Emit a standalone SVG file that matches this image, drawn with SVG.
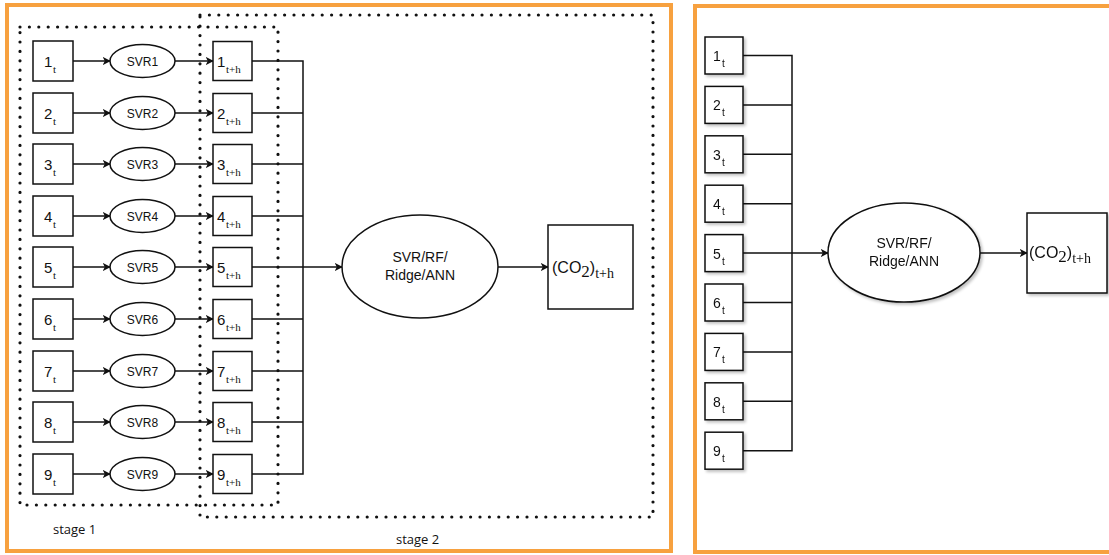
<svg xmlns="http://www.w3.org/2000/svg" width="1109" height="555" viewBox="0 0 1109 555">
<style>
.frame{fill:none;stroke:#f7a13f;stroke-width:4}
.dot{fill:none;stroke:#111;stroke-width:3.2;stroke-dasharray:0 9.4;stroke-linecap:round}
.box{fill:#fff;stroke:#111;stroke-width:1.5}
.ln{fill:none;stroke:#111;stroke-width:1.5}
.arr{fill:none;stroke:#111;stroke-width:1.5;marker-end:url(#ah)}
.t{font-family:"Liberation Sans",Arial,sans-serif;fill:#111}
.s{font-family:"Liberation Serif","DejaVu Serif",serif;fill:#111}
.lbl{font-family:"Open Sans","Liberation Sans",sans-serif;font-size:13px;fill:#111}
</style>
<defs>
<marker id="ah" viewBox="0 0 10 10" refX="9" refY="5" markerWidth="8" markerHeight="8" orient="auto" markerUnits="userSpaceOnUse">
<path d="M0,0 L10,5 L0,10 L2.5,5 Z" fill="#111"/>
</marker>
<filter id="sh" x="-20%" y="-20%" width="150%" height="150%">
<feGaussianBlur in="SourceAlpha" stdDeviation="1.5"/>
<feOffset dx="2" dy="2" result="b"/>
<feComponentTransfer><feFuncA type="linear" slope="0.25"/></feComponentTransfer>
<feMerge><feMergeNode/><feMergeNode in="SourceGraphic"/></feMerge>
</filter>
</defs>
<rect width="1109" height="555" fill="#fff"/>
<rect class="frame" x="7" y="5" width="664" height="546"/>
<rect class="frame" x="695" y="6" width="420" height="546"/>
<g id="stage1">
<rect class="dot" x="20" y="27" width="258" height="478"/>
<text class="lbl" x="53" y="534">stage 1</text>
</g>
<g id="stage2">
<rect class="dot" x="200" y="15" width="453" height="502"/>
<text class="lbl" x="396" y="544">stage 2</text>
</g>
<g id="connectors">
<line class="arr" x1="73" y1="61" x2="110" y2="61"/>
<line class="arr" x1="73" y1="113" x2="110" y2="113"/>
<line class="arr" x1="73" y1="164" x2="110" y2="164"/>
<line class="arr" x1="73" y1="216" x2="110" y2="216"/>
<line class="arr" x1="73" y1="267" x2="110" y2="267"/>
<line class="arr" x1="73" y1="319" x2="110" y2="319"/>
<line class="arr" x1="73" y1="371" x2="110" y2="371"/>
<line class="arr" x1="73" y1="422" x2="110" y2="422"/>
<line class="arr" x1="73" y1="474" x2="110" y2="474"/>
<line class="arr" x1="175" y1="61" x2="213" y2="61"/>
<line class="arr" x1="175" y1="113" x2="213" y2="113"/>
<line class="arr" x1="175" y1="164" x2="213" y2="164"/>
<line class="arr" x1="175" y1="216" x2="213" y2="216"/>
<line class="arr" x1="175" y1="267" x2="213" y2="267"/>
<line class="arr" x1="175" y1="319" x2="213" y2="319"/>
<line class="arr" x1="175" y1="371" x2="213" y2="371"/>
<line class="arr" x1="175" y1="422" x2="213" y2="422"/>
<line class="arr" x1="175" y1="474" x2="213" y2="474"/>
<path class="ln" d="M252,61 H303 V474 H252 M252,113 H303 M252,164 H303 M252,216 H303 M252,267 H303 M252,319 H303 M252,371 H303 M252,422 H303"/>
<line class="arr" x1="303" y1="267" x2="342" y2="267"/>
<line class="arr" x1="498" y1="267" x2="548" y2="267"/>
<path class="ln" d="M743,55.5 H792 V450.7 H743 M743,104.9 H792 M743,154.3 H792 M743,203.7 H792 M743,253.1 H792 M743,302.5 H792 M743,351.9 H792 M743,401.3 H792"/>
<line class="arr" x1="792" y1="253" x2="828" y2="253"/>
<line class="arr" x1="980" y1="253" x2="1027" y2="253"/>
</g>
<g id="in1"><rect class="box" x="33" y="41" width="40" height="40"/><text class="t" x="44" y="67" font-size="15">1</text><text class="s" x="53" y="73" font-size="11">t</text></g>
<g id="in2"><rect class="box" x="33" y="93" width="40" height="40"/><text class="t" x="44" y="119" font-size="15">2</text><text class="s" x="53" y="125" font-size="11">t</text></g>
<g id="in3"><rect class="box" x="33" y="144" width="40" height="40"/><text class="t" x="44" y="170" font-size="15">3</text><text class="s" x="53" y="176" font-size="11">t</text></g>
<g id="in4"><rect class="box" x="33" y="196" width="40" height="40"/><text class="t" x="44" y="222" font-size="15">4</text><text class="s" x="53" y="228" font-size="11">t</text></g>
<g id="in5"><rect class="box" x="33" y="247" width="40" height="40"/><text class="t" x="44" y="273" font-size="15">5</text><text class="s" x="53" y="279" font-size="11">t</text></g>
<g id="in6"><rect class="box" x="33" y="299" width="40" height="40"/><text class="t" x="44" y="325" font-size="15">6</text><text class="s" x="53" y="331" font-size="11">t</text></g>
<g id="in7"><rect class="box" x="33" y="351" width="40" height="40"/><text class="t" x="44" y="377" font-size="15">7</text><text class="s" x="53" y="383" font-size="11">t</text></g>
<g id="in8"><rect class="box" x="33" y="402" width="40" height="40"/><text class="t" x="44" y="428" font-size="15">8</text><text class="s" x="53" y="434" font-size="11">t</text></g>
<g id="in9"><rect class="box" x="33" y="454" width="40" height="40"/><text class="t" x="44" y="480" font-size="15">9</text><text class="s" x="53" y="486" font-size="11">t</text></g>
<g id="svr1"><ellipse class="box" cx="142.5" cy="61" rx="32.5" ry="16.5"/><text class="t" x="142.5" y="65.5" font-size="12" text-anchor="middle">SVR1</text></g>
<g id="svr2"><ellipse class="box" cx="142.5" cy="113" rx="32.5" ry="16.5"/><text class="t" x="142.5" y="117.5" font-size="12" text-anchor="middle">SVR2</text></g>
<g id="svr3"><ellipse class="box" cx="142.5" cy="164" rx="32.5" ry="16.5"/><text class="t" x="142.5" y="168.5" font-size="12" text-anchor="middle">SVR3</text></g>
<g id="svr4"><ellipse class="box" cx="142.5" cy="216" rx="32.5" ry="16.5"/><text class="t" x="142.5" y="220.5" font-size="12" text-anchor="middle">SVR4</text></g>
<g id="svr5"><ellipse class="box" cx="142.5" cy="267" rx="32.5" ry="16.5"/><text class="t" x="142.5" y="271.5" font-size="12" text-anchor="middle">SVR5</text></g>
<g id="svr6"><ellipse class="box" cx="142.5" cy="319" rx="32.5" ry="16.5"/><text class="t" x="142.5" y="323.5" font-size="12" text-anchor="middle">SVR6</text></g>
<g id="svr7"><ellipse class="box" cx="142.5" cy="371" rx="32.5" ry="16.5"/><text class="t" x="142.5" y="375.5" font-size="12" text-anchor="middle">SVR7</text></g>
<g id="svr8"><ellipse class="box" cx="142.5" cy="422" rx="32.5" ry="16.5"/><text class="t" x="142.5" y="426.5" font-size="12" text-anchor="middle">SVR8</text></g>
<g id="svr9"><ellipse class="box" cx="142.5" cy="474" rx="32.5" ry="16.5"/><text class="t" x="142.5" y="478.5" font-size="12" text-anchor="middle">SVR9</text></g>
<g id="out1"><rect class="box" x="213" y="41.5" width="39" height="39"/><text class="t" x="217" y="67" font-size="15">1</text><text class="s" x="226" y="73" font-size="11">t+h</text></g>
<g id="out2"><rect class="box" x="213" y="93.5" width="39" height="39"/><text class="t" x="217" y="119" font-size="15">2</text><text class="s" x="226" y="125" font-size="11">t+h</text></g>
<g id="out3"><rect class="box" x="213" y="144.5" width="39" height="39"/><text class="t" x="217" y="170" font-size="15">3</text><text class="s" x="226" y="176" font-size="11">t+h</text></g>
<g id="out4"><rect class="box" x="213" y="196.5" width="39" height="39"/><text class="t" x="217" y="222" font-size="15">4</text><text class="s" x="226" y="228" font-size="11">t+h</text></g>
<g id="out5"><rect class="box" x="213" y="247.5" width="39" height="39"/><text class="t" x="217" y="273" font-size="15">5</text><text class="s" x="226" y="279" font-size="11">t+h</text></g>
<g id="out6"><rect class="box" x="213" y="299.5" width="39" height="39"/><text class="t" x="217" y="325" font-size="15">6</text><text class="s" x="226" y="331" font-size="11">t+h</text></g>
<g id="out7"><rect class="box" x="213" y="351.5" width="39" height="39"/><text class="t" x="217" y="377" font-size="15">7</text><text class="s" x="226" y="383" font-size="11">t+h</text></g>
<g id="out8"><rect class="box" x="213" y="402.5" width="39" height="39"/><text class="t" x="217" y="428" font-size="15">8</text><text class="s" x="226" y="434" font-size="11">t+h</text></g>
<g id="out9"><rect class="box" x="213" y="454.5" width="39" height="39"/><text class="t" x="217" y="480" font-size="15">9</text><text class="s" x="226" y="486" font-size="11">t+h</text></g>
<g id="model1"><ellipse class="box" cx="420" cy="266.5" rx="78" ry="51.5"/><text class="t" x="420" y="262" font-size="14" text-anchor="middle">SVR/RF/</text><text class="t" x="420" y="280" font-size="14" text-anchor="middle">Ridge/ANN</text></g>
<g id="co2a"><rect class="box" x="548" y="225" width="85" height="84"/><text x="552" y="273"><tspan class="t" font-size="16">(CO</tspan><tspan class="s" font-size="17" dy="4">2</tspan><tspan class="t" font-size="16" dy="-4">)</tspan><tspan class="s" font-size="14" dy="5">t+h</tspan></text></g>
<g id="r1" filter="url(#sh)"><rect class="box" x="705" y="37" width="38" height="37"/><text class="t" x="713" y="61" font-size="14">1</text><text class="t" x="722" y="67" font-size="10">t</text></g>
<g id="r2" filter="url(#sh)"><rect class="box" x="705" y="86.4" width="38" height="37"/><text class="t" x="713" y="110.4" font-size="14">2</text><text class="t" x="722" y="116.4" font-size="10">t</text></g>
<g id="r3" filter="url(#sh)"><rect class="box" x="705" y="135.8" width="38" height="37"/><text class="t" x="713" y="159.8" font-size="14">3</text><text class="t" x="722" y="165.8" font-size="10">t</text></g>
<g id="r4" filter="url(#sh)"><rect class="box" x="705" y="185.2" width="38" height="37"/><text class="t" x="713" y="209.2" font-size="14">4</text><text class="t" x="722" y="215.2" font-size="10">t</text></g>
<g id="r5" filter="url(#sh)"><rect class="box" x="705" y="234.6" width="38" height="37"/><text class="t" x="713" y="258.6" font-size="14">5</text><text class="t" x="722" y="264.6" font-size="10">t</text></g>
<g id="r6" filter="url(#sh)"><rect class="box" x="705" y="284" width="38" height="37"/><text class="t" x="713" y="308" font-size="14">6</text><text class="t" x="722" y="314" font-size="10">t</text></g>
<g id="r7" filter="url(#sh)"><rect class="box" x="705" y="333.4" width="38" height="37"/><text class="t" x="713" y="357.4" font-size="14">7</text><text class="t" x="722" y="363.4" font-size="10">t</text></g>
<g id="r8" filter="url(#sh)"><rect class="box" x="705" y="382.8" width="38" height="37"/><text class="t" x="713" y="406.8" font-size="14">8</text><text class="t" x="722" y="412.8" font-size="10">t</text></g>
<g id="r9" filter="url(#sh)"><rect class="box" x="705" y="432.2" width="38" height="37"/><text class="t" x="713" y="456.2" font-size="14">9</text><text class="t" x="722" y="462.2" font-size="10">t</text></g>
<g id="model2" filter="url(#sh)"><ellipse class="box" cx="904" cy="252.5" rx="76" ry="49.5"/><text class="t" x="904" y="248" font-size="14" text-anchor="middle">SVR/RF/</text><text class="t" x="904" y="266" font-size="14" text-anchor="middle">Ridge/ANN</text></g>
<g id="co2b" filter="url(#sh)"><rect class="box" x="1027" y="213" width="80" height="80"/><text x="1029" y="258"><tspan class="t" font-size="16">(CO</tspan><tspan class="s" font-size="17" dy="4">2</tspan><tspan class="t" font-size="16" dy="-4">)</tspan><tspan class="s" font-size="14" dy="5">t+h</tspan></text></g>
</svg>
